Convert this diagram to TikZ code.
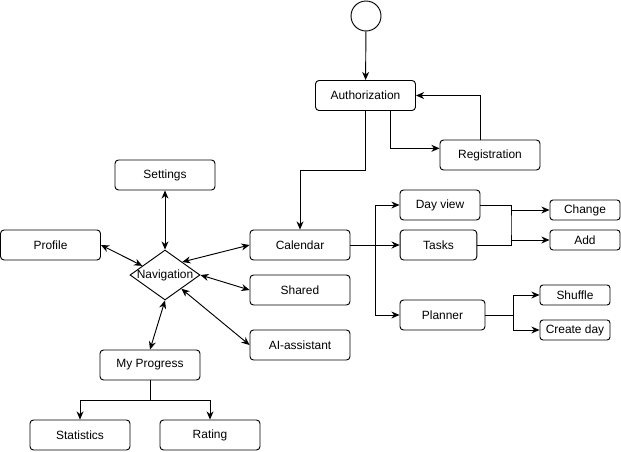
\documentclass[tikz,border=0pt]{standalone}
\usepackage{fontspec}
\setmainfont{Liberation Sans}
\usetikzlibrary{arrows.meta,shapes.geometric}

\begin{document}
\begin{tikzpicture}[x=0.03cm, y=-0.03cm, line width=0.8pt,
    every node/.style={font=\fontsize{10.2}{12}\selectfont},
    box/.style={draw, rounded corners=3pt, minimum width=3cm, minimum height=0.9cm, inner sep=0pt},
    leaf/.style={draw, rounded corners=2.5pt, minimum width=2.1cm, minimum height=0.6cm, inner sep=0pt},
    >={Stealth[length=7pt, width=6pt]}]
    \useasboundingbox (0,0) rectangle (621,451);

    \node[circle, draw, minimum size=0.9cm, inner sep=0pt] (start) at (366,16) {};
    \node[box] (auth) at (365.5,95.5) {Authorization};
    \node[box] (reg) at (490,155) {Registration};
    \node[box] (set) at (165,175) {Settings};
    \node[box] (prof) at (50.5,245) {Profile};
    \node[diamond, draw, minimum width=2.1cm, minimum height=1.5cm, inner sep=0pt] (nav) at (165,275) {};
    \node (navtext) at (nav) {Navigation};
    \node[box] (cal) at (300,245) {Calendar};
    \node[box] (shared) at (300,290) {Shared};
    \node[box] (ai) at (300,345) {AI-assistant};
    \node[box] (mp) at (150,365) {My Progress};
    \node[box] (stat) at (80,435) {Statistics};
    \node[box] (rate) at (210,435) {Rating};
    \node[box, minimum width=2.4cm] (day) at (440,205) {Day view};
    \node[box, minimum width=2.3cm] (tasks) at (438.5,245) {Tasks};
    \node[box, minimum width=2.55cm] (plan) at (442.5,315) {Planner};
    \node[leaf] (chg) at (585,210) {Change};
    \node[leaf] (add) at (585,240) {Add};
    \node[leaf] (shuf) at (575,295) {Shuffle};
    \node[leaf] (cday) at (575,330) {Create day};

    \coordinate (split) at (375,245);
    \coordinate (m1) at (511,225);
    \coordinate (m2) at (513,315);

    % login flow
    \draw[->] (start) -- (auth);
    \draw[->] ([xshift=0.75cm]auth.south) |- ([yshift=0.2cm]reg.west);
    \draw[->] ([xshift=-0.3cm]reg.north) |- (auth.east);
    \draw[->] (auth.south) -- ++(0,59.5) -| (cal.north);

    % navigation hub
    \foreach \n/\p/\a in {set/south/north, prof/east/158, cal/west/37, shared/west/east, ai/west/-40, mp/north/south}
        \draw[<->] (\n.\p) -- (nav.\a);

    % progress
    \draw[->] (mp.south) -- ++(0,20) -| (stat.north);
    \draw[->] (mp.south) -- ++(0,20) -| (rate.north);

    % calendar views
    \draw[->] (cal.east) -- (tasks.west);
    \draw[->] (split) |- (day.west);
    \draw[->] (split) |- (plan.west);

    \draw (day.east) -| (m1) |- (tasks.east);
    \draw[->] (m1 |- chg.west) -- (chg.west);
    \draw[->] (m1 |- add.west) -- (add.west);

    \draw (plan.east) -- (m2);
    \draw[->] (m2) |- (shuf.west);
    \draw[->] (m2) |- (cday.west);
\end{tikzpicture}
\end{document}
